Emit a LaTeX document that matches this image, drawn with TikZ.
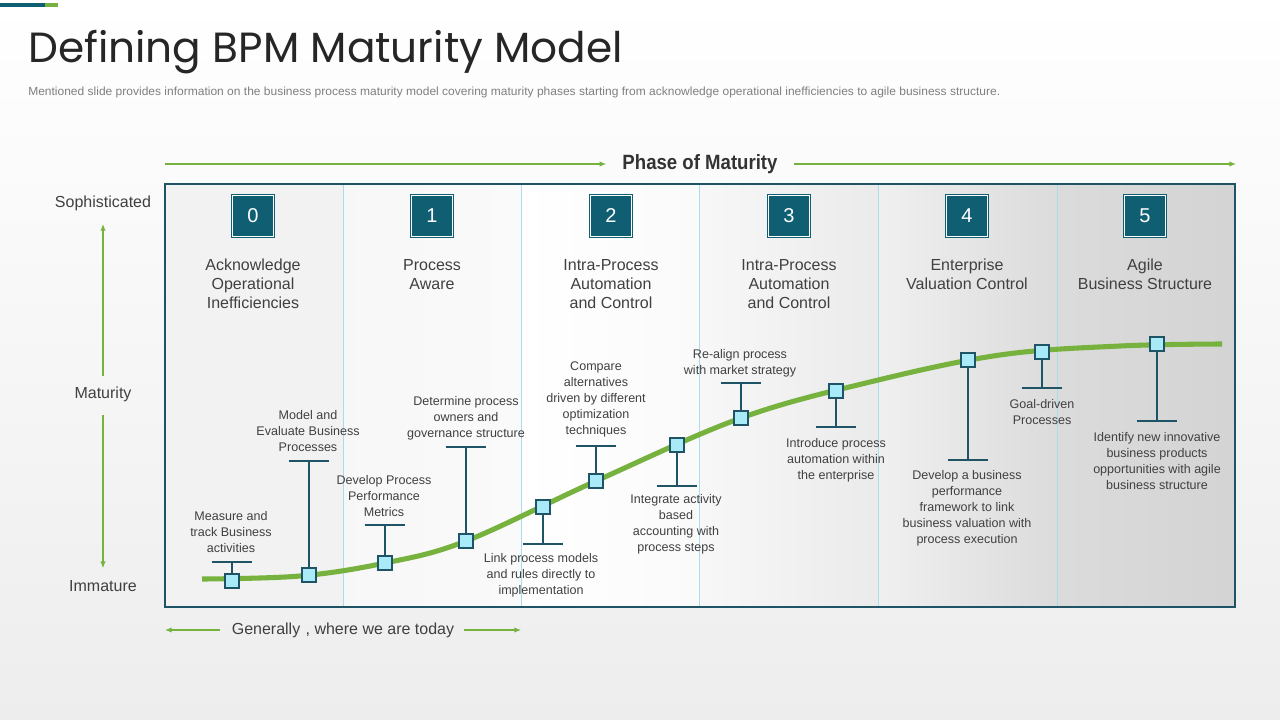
\documentclass[tikz,border=0pt]{standalone}
\usepackage{fontspec}
\setmainfont{Liberation Sans}
\newfontfamily\titlefont{Poppins}
\usetikzlibrary{arrows.meta}
\definecolor{numteal}{HTML}{0F5E72}
\definecolor{frameteal}{HTML}{1E5466}
\definecolor{grn}{HTML}{77B23F}
\definecolor{divl}{HTML}{A9DDEA}
\definecolor{mk}{HTML}{A8EAF8}
\definecolor{txt}{HTML}{404040}
\definecolor{subtxt}{HTML}{7F7F7F}
\tikzset{
  garrow/.style={draw=grn, line width=0.8pt, -{Latex[length=5pt,width=4pt]}},
  numbox/.style={draw=numteal, fill=numteal, line width=0.5pt, double=white, double distance=1pt,
     minimum size=31pt, inner sep=0pt, text=white, font=\fontsize{15}{15}\selectfont},
  coltitle/.style={align=center, text=txt, font=\fontsize{12}{14.25}\selectfont, inner sep=0pt},
  sidelbl/.style={text=txt, font=\fontsize{12}{14}\selectfont, inner sep=0pt},
  lbl/.style={align=center, text=txt, font=\fontsize{9.4}{12}\selectfont, inner sep=0pt},
  mkbox/.style={draw=frameteal, fill=mk, line width=0.8pt, minimum size=10.5pt, inner sep=0pt},
  stem/.style={draw=frameteal, line width=0.9pt},
  curve/.style={draw=grn, line width=3.8pt},
}
\begin{document}
\begin{tikzpicture}[x=0.75pt,y=-0.75pt]
\useasboundingbox (0,0) rectangle (1280,720);
% background
\fill[top color=white, bottom color=black!7] (0,0) rectangle (1280,720);
\fill[numteal] (0,3) rectangle (45,7);
\fill[grn] (45,3) rectangle (58,7);
% title
\node[anchor=base west, inner sep=0pt, text=black!85] (title) at (28,63)
  {\resizebox{446pt}{!}{\titlefont\fontsize{36}{36}\selectfont Defining BPM Maturity Model}};
\node[anchor=base west, inner sep=0pt, text=subtxt] (subtitle) at (28,96)
  {\resizebox{729pt}{6.4pt}{Mentioned slide provides information on the business process maturity model covering maturity phases starting from acknowledge operational inefficiencies to agile business structure.}};
% phase of maturity
\node[inner sep=0pt, text=black!80] (phase) at (700,164)
  {\scalebox{0.9}[1]{\fontsize{15.5}{16}\selectfont\bfseries Phase of Maturity}};
\coordinate (pl) at (165,164);
\coordinate (pr) at (1236,164);
\draw[garrow] (pl) -- ([xshift=-12pt]phase.west);
\draw[garrow] ([xshift=12pt]phase.east) -- (pr);
% column backgrounds
\fill[black!5] (165,184) rectangle (343,607);
\fill[left color=black!3, right color=black!2] (343,184) rectangle (521,607);
\fill[left color=white, right color=black!2] (521,184) rectangle (699,607);
\fill[left color=black!3, right color=black!8] (699,184) rectangle (878,607);
\fill[left color=black!6, right color=black!14] (878,184) rectangle (1057,607);
\fill[left color=black!14, right color=black!17] (1057,184) rectangle (1235,607);
\foreach \xx in {343,521,699,878,1057} \draw[divl, line width=0.7pt] (\xx,184) -- (\xx,607);
\draw[frameteal, line width=0.9pt] (165,184) rectangle (1235,607);
% number boxes and column titles
\node[numbox] (n0) at (253,216) {0};
\node[numbox] (n1) at (432,216) {1};
\node[numbox] (n2) at (611,216) {2};
\node[numbox] (n3) at (789,216) {3};
\node[numbox] (n4) at (967,216) {4};
\node[numbox] (n5) at (1145,216) {5};
\node[coltitle] (t0) at (253,284) {Acknowledge\\Operational\\Inefficiencies};
\node[coltitle] (t1) at (432,274.5) {Process\\Aware};
\node[coltitle] (t2) at (611,284) {Intra-Process\\Automation\\and Control};
\node[coltitle] (t3) at (789,284) {Intra-Process\\Automation\\and Control};
\node[coltitle] (t4) at (967,274.5) {Enterprise\\Valuation Control};
\node[coltitle] (t5) at (1145,274.5) {Agile\\Business Structure};
% side labels
\node[sidelbl] (soph) at (103,203) {Sophisticated};
\node[sidelbl] (mat) at (103,394) {Maturity};
\node[sidelbl] (imm) at (103,586) {Immature};
\draw[garrow] ([yshift=8pt]mat.north) -- ([yshift=-10pt]soph.south);
\draw[garrow] ([yshift=-10pt]mat.south) -- ([yshift=9pt]imm.north);
% bottom
\node[sidelbl] (gen) at (343,630) {Generally\,\,, where we are today};
\coordinate (gl) at (165,630);
\coordinate (gr) at (521,630);
\draw[garrow] ([xshift=-9pt]gen.west) -- (gl);
\draw[garrow] ([xshift=7pt]gen.east) -- (gr);
% curve
\draw[curve] plot[smooth, tension=0.6] coordinates {(202,579) (300,576) (385,563) (466,541) (596,481) (741,418) (870,382) (1000,355) (1120,346) (1222,344)};
% markers with stems
\foreach \i/\xx/\yy/\by in {1/232/581/562, 2/309/575/461, 3/385/563/525, 4/466/541/447, 5/543/507/544, 6/596/481/446, 7/677/445/486, 8/741/418/383, 9/836/391/427, 10/968/360/460, 11/1042/352/388, 12/1157/344/421}{
  \coordinate (b\i) at (\xx,\by);
  \draw[stem] (\xx,\yy) -- (b\i);
  \draw[stem] ([xshift=-15.3pt]b\i) -- ([xshift=15.3pt]b\i);
  \node[mkbox] (m\i) at (\xx,\yy) {};
}
% labels
\node[lbl] (l1) at (231,532) {Measure and\\track Business\\activities};
\node[lbl] (l2) at (308,431) {Model and\\Evaluate Business\\Processes};
\node[lbl] (l3) at (384,496) {Develop Process\\Performance\\Metrics};
\node[lbl] (l4) at (466,418) {Determine process\\owners and\\governance structure};
\node[lbl] (l5) at (541,575) {Link process models\\and rules directly to\\implementation};
\node[lbl] (l6) at (596,399) {Compare\\alternatives\\driven by different\\optimization\\techniques};
\node[lbl] (l7) at (676,524) {Integrate activity\\based\\accounting with\\process steps};
\node[lbl] (l8) at (740,363) {Re-align process\\with market strategy};
\node[lbl] (l9) at (836,460) {Introduce process\\automation within\\the enterprise};
\node[lbl] (l10) at (967,508) {Develop a business\\performance\\framework to link\\business valuation with\\process execution};
\node[lbl] (l11) at (1042,412) {Goal-driven\\Processes};
\node[lbl] (l12) at (1157,461) {Identify new innovative\\business products\\opportunities with agile\\business structure};
\end{tikzpicture}
\end{document}
